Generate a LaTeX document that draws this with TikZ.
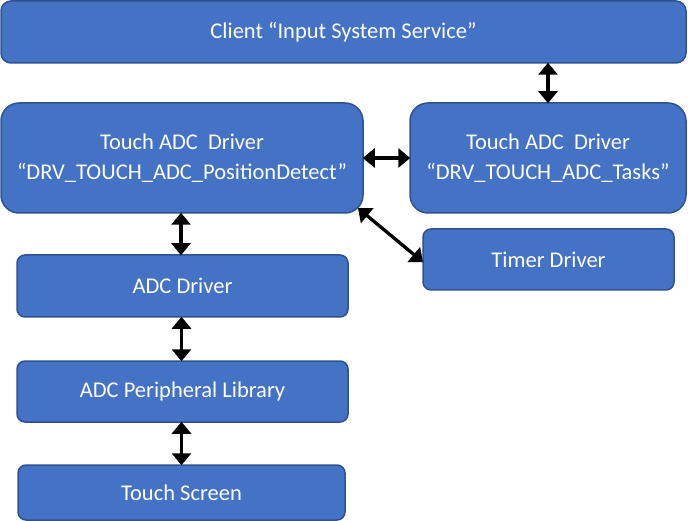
\documentclass[tikz,border=0pt]{standalone}
\usepackage{fontspec}
\setmainfont{Carlito}
\usetikzlibrary{arrows.meta}
\definecolor{boxfill}{HTML}{4472C4}
\definecolor{boxline}{HTML}{2F528F}
\begin{document}
\begin{tikzpicture}[x=1pt,y=-1pt,
  blk/.style={draw=boxline,line width=1.5pt,fill=boxfill,text=white,font=\fontsize{22.5}{27}\selectfont,align=center,inner sep=0pt},
  link/.style={line width=3.3pt,{Triangle[length=12pt,width=19pt]}-{Triangle[length=12pt,width=19pt]},shorten <=-1pt,shorten >=-1pt}]
\useasboundingbox (0,0) rectangle (688,521);
\node[blk,rounded corners=10pt,minimum width=685pt,minimum height=62pt] (client) at (343.5,32) {\raisebox{-2pt}{Client “Input System Service”}};
\node[blk,rounded corners=18pt,minimum width=362pt,minimum height=110pt] (pos) at (182,158) {Touch ADC\ \ Driver\\[3pt]“DRV\_TOUCH\_ADC\_PositionDetect”};
\node[blk,rounded corners=18pt,minimum width=276pt,minimum height=110pt] (tasks) at (548,158) {Touch ADC\ \ Driver\\[3pt]“DRV\_TOUCH\_ADC\_Tasks”};
\node[blk,rounded corners=8pt,minimum width=251pt,minimum height=61pt] (timer) at (548.5,259.5) {\raisebox{-1pt}{Timer Driver}};
\node[blk,rounded corners=8pt,minimum width=331pt,minimum height=62pt] (adc) at (182.5,286) {\raisebox{-1pt}{ADC Driver}};
\node[blk,rounded corners=8pt,minimum width=331pt,minimum height=61pt] (plib) at (182.5,391.5) {\raisebox{-1pt}{ADC Peripheral Library}};
\node[blk,rounded corners=8pt,minimum width=327pt,minimum height=55pt] (ts) at (181.5,492.5) {\raisebox{-1pt}{Touch Screen}};
\draw[link] (client.south -| tasks.north) -- (tasks.north);
\draw[link] (pos.east) -- (tasks.west);
\path (pos.south east) ++(-5pt,5pt) coordinate (d1);
\draw[link] (d1) -- ([yshift=-2pt]timer.west);
\path (pos.south) ++(-1pt,0) coordinate (a1);
\draw[link] (a1) -- (a1 |- adc.north);
\path (adc.south) ++(-1pt,0) coordinate (a2);
\draw[link] (a2) -- (a2 |- plib.north);
\path (plib.south) ++(-1pt,0) coordinate (a3);
\draw[link] (a3) -- (a3 |- ts.north);
\end{tikzpicture}
\end{document}
